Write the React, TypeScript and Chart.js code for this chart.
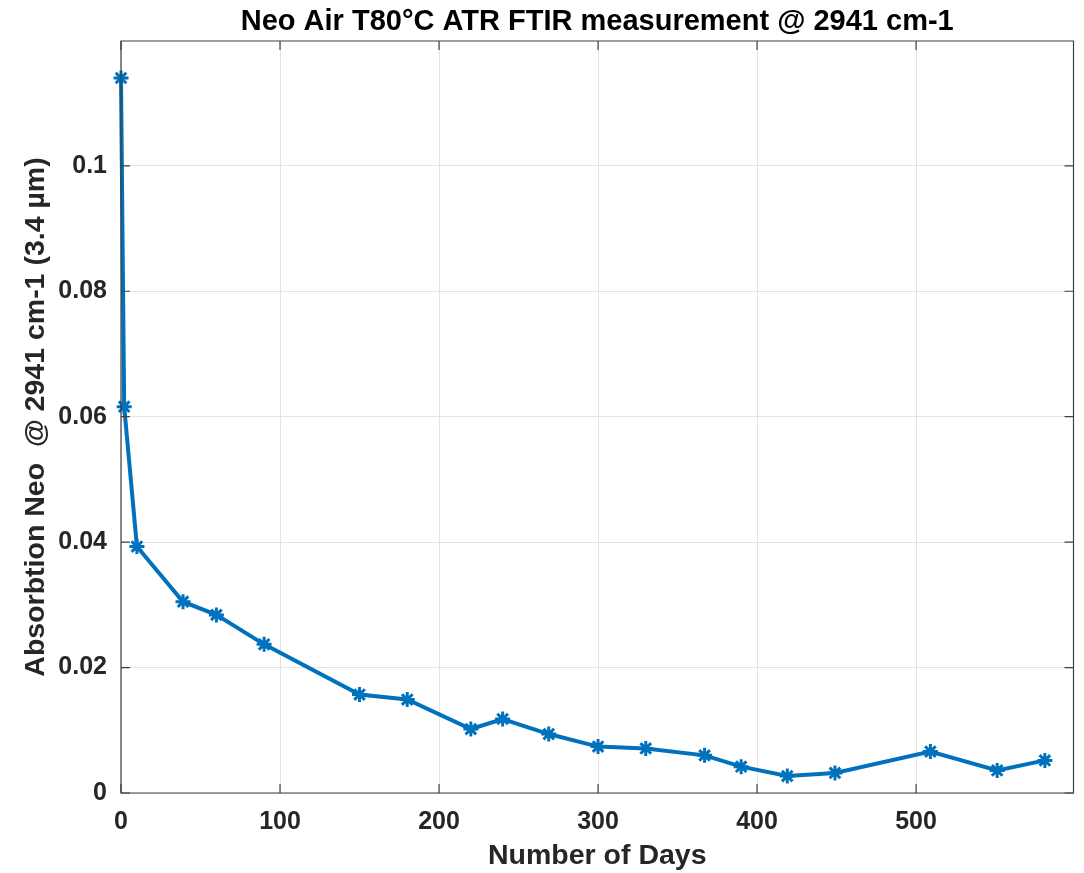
import React, { useEffect, useRef } from "react";
import { Chart, registerables } from "chart.js";

Chart.register(...registerables);

const TITLE = "Neo Air T80°C ATR FTIR measurement @ 2941 cm-1";
const X_LABEL = "Number of Days";
const Y_LABEL = "Absorbtion Neo  @ 2941 cm-1 (3.4 µm)";

const days = [0, 2, 10, 39, 60, 90, 150, 180, 220, 240, 269, 300, 330, 367, 390, 419, 449, 509, 551, 581];
const absorption = [
  0.114, 0.0616, 0.0393, 0.0305, 0.0284, 0.0237, 0.0157, 0.0149, 0.0102, 0.0118,
  0.0094, 0.0074, 0.0071, 0.006, 0.0042, 0.0027, 0.0032, 0.0066, 0.0036, 0.0052,
];
const xTicks = [0, 100, 200, 300, 400, 500];
const yTicks = [0, 0.02, 0.04, 0.06, 0.08, 0.1];

const FONT = "'Liberation Sans', Arial, Helvetica, sans-serif";
const BLUE = "#0072BD";
const AXIS = "#404040";

const boxPlugin = {
  id: "matlabBox",
  afterDraw(chart: any) {
    const { ctx, chartArea, scales } = chart;
    const { left, right, top, bottom } = chartArea;
    const len = 9;
    ctx.save();
    ctx.strokeStyle = AXIS;
    ctx.lineWidth = 1.2;
    ctx.beginPath();
    ctx.rect(left, top, right - left, bottom - top);
    ctx.stroke();
    ctx.beginPath();
    for (const v of xTicks) {
      const px = scales.x.getPixelForValue(v);
      ctx.moveTo(px, bottom);
      ctx.lineTo(px, bottom - len);
      ctx.moveTo(px, top);
      ctx.lineTo(px, top + len);
    }
    for (const v of yTicks) {
      const py = scales.y.getPixelForValue(v);
      ctx.moveTo(left, py);
      ctx.lineTo(left + len, py);
      ctx.moveTo(right, py);
      ctx.lineTo(right - len, py);
    }
    ctx.stroke();
    ctx.restore();
  },
};

export default function App() {
  const ref = useRef<HTMLCanvasElement | null>(null);

  useEffect(() => {
    if (!ref.current) return;
    const points = days.map((d, i) => ({ x: d, y: absorption[i] }));
    const chart = new Chart(ref.current, {
      type: "line",
      data: {
        datasets: [
          {
            data: points,
            borderColor: BLUE,
            backgroundColor: BLUE,
            borderWidth: 4,
            pointStyle: "star",
            pointRadius: 7.5,
            pointBorderWidth: 3,
            pointBorderColor: BLUE,
            pointBackgroundColor: BLUE,
            tension: 0,
            clip: false as any,
          },
        ],
      },
      options: {
        animation: false,
        responsive: false,
        layout: { padding: { left: 0, right: 7, top: 0, bottom: 0 } },
        plugins: {
          legend: { display: false },
          tooltip: { enabled: false },
          title: {
            display: true,
            fullSize: false,
            text: TITLE,
            color: "#000",
            font: { family: FONT, size: 29, weight: "bold" },
            padding: { top: 5, bottom: 1.2 },
          },
        },
        scales: {
          x: {
            type: "linear",
            min: 0,
            max: 599,
            afterBuildTicks: (s: any) => {
              s.ticks = xTicks.map((v) => ({ value: v }));
            },
            afterFit: (s: any) => {
              s.height = 80;
            },
            ticks: {
              color: "#262626",
              font: { family: FONT, size: 25, weight: "bold" },
              padding: 14,
              maxRotation: 0,
              callback: (v: any) => String(v),
            },
            grid: { color: "#e3e3e3", lineWidth: 1, drawTicks: false },
            border: { display: false },
            title: {
              display: true,
              text: X_LABEL,
              color: "#262626",
              font: { family: FONT, size: 28.5, weight: "bold" },
              padding: { top: 0, bottom: 0 },
            },
          },
          y: {
            type: "linear",
            min: 0,
            max: 0.1199,
            afterBuildTicks: (s: any) => {
              s.ticks = yTicks.map((v) => ({ value: v }));
            },
            afterFit: (s: any) => {
              s.width = 121;
            },
            ticks: {
              color: "#262626",
              font: { family: FONT, size: 25, weight: "bold" },
              padding: 14,
              callback: (v: any) => String(Number(Number(v).toFixed(2))),
            },
            grid: { color: "#e3e3e3", lineWidth: 1, drawTicks: false },
            border: { display: false },
            title: {
              display: true,
              text: Y_LABEL,
              color: "#262626",
              font: { family: FONT, size: 28.5, weight: "bold" },
              padding: { top: 19, bottom: 0 },
            },
          },
        },
      },
      plugins: [boxPlugin],
    });
    return () => chart.destroy();
  }, []);

  return (
    <div style={{ position: "absolute", left: 0, top: 0, width: 1084, height: 873, background: "#fff" }}>
      <canvas ref={ref} width={1084} height={873} style={{ width: 1084, height: 873, display: "block" }} />
    </div>
  );
}
